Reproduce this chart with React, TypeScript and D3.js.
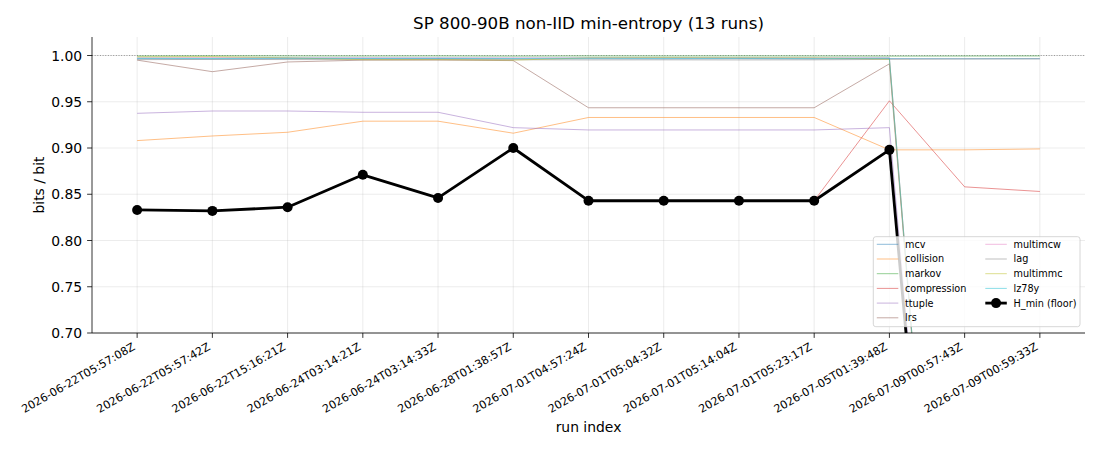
import React from "react";
import * as d3 from "d3";

// run timestamps (x tick labels)
const runs = [
  "2026-06-22T05:57:08Z",
  "2026-06-22T05:57:42Z",
  "2026-06-22T15:16:21Z",
  "2026-06-24T03:14:21Z",
  "2026-06-24T03:14:33Z",
  "2026-06-28T01:38:57Z",
  "2026-07-01T04:57:24Z",
  "2026-07-01T05:04:32Z",
  "2026-07-01T05:14:04Z",
  "2026-07-01T05:23:17Z",
  "2026-07-05T01:39:48Z",
  "2026-07-09T00:57:43Z",
  "2026-07-09T00:59:33Z",
];

// estimator results, bits per bit
const mcv = [0.9965, 0.9962, 0.9966, 0.9966, 0.9967, 0.9963, 0.9965, 0.9964, 0.9966, 0.9963, 0.9967, 0.9965, 0.9966];
const collision = [0.908, 0.913, 0.917, 0.929, 0.929, 0.916, 0.933, 0.933, 0.933, 0.933, 0.898, 0.898, 0.899];
const markov = [0.9994, 0.9996, 0.9995, 0.9994, 0.9995, 0.9993, 0.9995, 0.9994, 0.9995, 0.9994, 0.9993, 0.9994, 0.9995];
const compression = [0.833, 0.832, 0.836, 0.871, 0.846, 0.9, 0.843, 0.843, 0.843, 0.843, 0.951, 0.858, 0.853];
const ttuple = [0.9375, 0.94, 0.94, 0.9386, 0.9386, 0.922, 0.9195, 0.9195, 0.9195, 0.9195, 0.922, 0.0, 0.0];
const lrs = [0.995, 0.9825, 0.993, 0.995, 0.995, 0.9945, 0.9435, 0.9435, 0.9435, 0.9435, 0.991, 0.0, 0.0];
const multimcw = [0.9975, 0.9978, 0.9976, 0.9977, 0.9976, 0.9975, 0.9976, 0.9977, 0.9976, 0.9975, 0.9976, 0.0, 0.0];
const lag = [0.9955, 0.9958, 0.9956, 0.9955, 0.9957, 0.9954, 0.9952, 0.9953, 0.9952, 0.9953, 0.9958, 0.9962, 0.9963];
const multimmc = [0.9985, 0.9988, 0.9975, 0.9955, 0.9955, 0.995, 0.9975, 0.9978, 0.9976, 0.9975, 0.996, 0.0, 0.0];
const lz78y = [0.997, 0.9968, 0.9972, 0.997, 0.9971, 0.9969, 0.9972, 0.997, 0.9971, 0.9969, 0.9972, 0.0, 0.0];
const hMin = [0.833, 0.832, 0.836, 0.871, 0.846, 0.9, 0.843, 0.843, 0.843, 0.843, 0.898, 0.0, 0.0];

const yTicks = [0.7, 0.75, 0.8, 0.85, 0.9, 0.95, 1.0];

const series = [
  { name: "mcv", values: mcv, color: "#1f77b4" },
  { name: "collision", values: collision, color: "#ff7f0e" },
  { name: "markov", values: markov, color: "#2ca02c" },
  { name: "compression", values: compression, color: "#d62728" },
  { name: "ttuple", values: ttuple, color: "#9467bd" },
  { name: "lrs", values: lrs, color: "#8c564b" },
  { name: "multimcw", values: multimcw, color: "#e377c2" },
  { name: "lag", values: lag, color: "#7f7f7f" },
  { name: "multimmc", values: multimmc, color: "#bcbd22" },
  { name: "lz78y", values: lz78y, color: "#17becf" },
];

const W = 1100;
const H = 450;
const left = 92;
const right = 1085;
const top = 37;
const bottom = 333;
const font = "DejaVu Sans, sans-serif";

const App: React.FC = () => {
  const x = d3.scaleLinear().domain([-0.6, runs.length - 1 + 0.6]).range([left, right]);
  const y = d3.scaleLinear().domain([0.7, 1.02]).range([bottom, top]);

  const line = d3
    .line<number>()
    .x((_, i) => x(i))
    .y((d) => y(d));

  // legend layout
  const lgX = 873.3;
  const lgY = 236.7;
  const rowH = 14.7;
  const col2 = 108.5;
  const legendItems = [
    ...series.map((s) => ({ name: s.name, color: s.color, alpha: 0.5, thick: false })),
    { name: "H_min (floor)", color: "#000", alpha: 1, thick: true },
  ];

  return (
    <svg width={W} height={H} style={{ position: "absolute", left: 0, top: 0 }} fontFamily={font}>
      <rect width={W} height={H} fill="#fff" />
      <defs>
        <clipPath id="plot">
          <rect x={left} y={top} width={right - left} height={bottom - top} />
        </clipPath>
      </defs>

      {/* grid */}
      <g stroke="#b0b0b0" strokeOpacity={0.3} strokeWidth={0.8}>
        {runs.map((_, i) => (
          <line key={i} x1={x(i)} x2={x(i)} y1={top} y2={bottom} />
        ))}
        {yTicks.map((t) => (
          <line key={t} x1={left} x2={right} y1={y(t)} y2={y(t)} />
        ))}
      </g>

      <g clipPath="url(#plot)">
        <line x1={left} x2={right} y1={y(1)} y2={y(1)} stroke="#808080" strokeOpacity={0.8} strokeWidth={1} strokeDasharray="1,1.65" />
        {series.map((s) => (
          <path key={s.name} d={line(s.values) || ""} fill="none" stroke={s.color} strokeOpacity={0.5} strokeWidth={1} />
        ))}
        <path d={line(hMin) || ""} fill="none" stroke="#000" strokeWidth={2.8} strokeLinejoin="round" />
        {hMin.map((v, i) => (
          <circle key={i} cx={x(i)} cy={y(v)} r={5} fill="#000" />
        ))}
      </g>

      {/* axes */}
      <line x1={left} x2={left} y1={top} y2={bottom} stroke="#000" strokeWidth={0.8} />
      <line x1={left} x2={right} y1={bottom} y2={bottom} stroke="#000" strokeWidth={0.8} />
      {yTicks.map((t) => (
        <g key={t}>
          <line x1={left - 4.9} x2={left} y1={y(t)} y2={y(t)} stroke="#000" strokeWidth={0.8} />
          <text x={left - 9.8} y={y(t)} dy="0.36em" textAnchor="end" fontSize={13.9}>
            {t.toFixed(2)}
          </text>
        </g>
      ))}
      {runs.map((r, i) => (
        <g key={r}>
          <line x1={x(i)} x2={x(i)} y1={bottom} y2={bottom + 4.9} stroke="#000" strokeWidth={0.8} />
          <text
            transform={`translate(${x(i) - 1.3},${bottom + 16}) rotate(-30)`}
            textAnchor="end"
            fontSize={11.1}
          >
            {r}
          </text>
        </g>
      ))}

      <text x={(left + right) / 2} y={29} textAnchor="middle" fontSize={16.7}>
        SP 800-90B non-IID min-entropy (13 runs)
      </text>
      <text x={(left + right) / 2} y={432} textAnchor="middle" fontSize={13.9}>
        run index
      </text>
      <text transform={`translate(44,${(top + bottom) / 2}) rotate(-90)`} textAnchor="middle" fontSize={13.9}>
        bits / bit
      </text>

      {/* legend */}
      <rect x={lgX} y={lgY} width={1080 - lgX} height={326.7 - lgY} rx={2.5} fill="#fff" fillOpacity={0.8} stroke="#cccccc" strokeWidth={0.8} />
      {legendItems.map((it, k) => {
        const col = k < 6 ? 0 : 1;
        const row = k < 6 ? k : k - 6;
        const hx = lgX + 3.5 + col * col2;
        const cy = lgY + 7.6 + row * rowH;
        return (
          <g key={it.name}>
            <line x1={hx} x2={hx + 21.5} y1={cy} y2={cy} stroke={it.color} strokeOpacity={it.alpha} strokeWidth={it.thick ? 2.8 : 1} />
            {it.thick && <circle cx={hx + 10.75} cy={cy} r={5} fill="#000" />}
            <text x={hx + 28.2} y={cy} dy="0.36em" fontSize={9.7}>
              {it.name}
            </text>
          </g>
        );
      })}
    </svg>
  );
};

export default App;
